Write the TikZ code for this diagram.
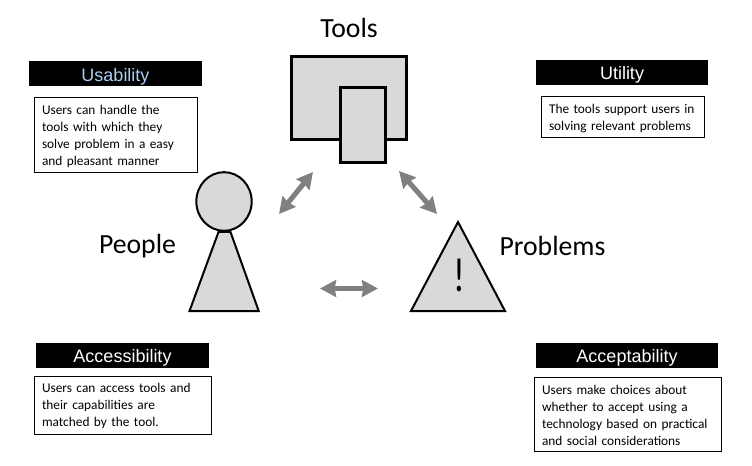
\documentclass[tikz,border=0pt]{standalone}
\usepackage{fontspec}
\setmainfont{Carlito}
\setsansfont{Liberation Sans}
\usetikzlibrary{arrows.meta,shapes.geometric}
\definecolor{linkblue}{RGB}{170,205,245}

\begin{document}
\begin{tikzpicture}[
  x = 0.75pt, y = -0.75pt,
  line join = miter,
  title/.style = {font = \fontsize{20.8}{25}\selectfont},
  head/.style = {fill = black, text = white, inner sep = 0pt, minimum height = 18.75pt,
    text height = 11pt, text depth = 0pt, font = \sffamily\fontsize{13.5}{16}\selectfont},
  body/.style = {draw, line width = 0.75pt, fill = white, inner xsep = 6pt, inner ysep = 0pt, align = left,
    font = \fontsize{10}{12.75}\selectfont, execute at begin node = {\rule{0pt}{9pt}}},
  solid shape/.style = {draw, fill = black!15, line width = 1.5pt},
  tool/.style = {draw, fill = black!15, line width = 2.25pt, inner sep = 0pt},
  link/.style = {<->, draw = black!50, line width = 3.8pt,
    >={Stealth[inset = 1pt, length = 12pt, width = 12.5pt]}}]
  % Define nodes
  \node (T) [title] at (349, 28) {Tools};
  \node (P) [title] at (137.5, 246) {People};
  \node (R) [title] at (552.5, 246) {Problems};

  \node (toolB) [tool, minimum width = 86.25pt, minimum height = 62.6pt] at (349, 98.2) {};
  \node (toolS) [tool, minimum width = 33.4pt, minimum height = 56pt] at (363.2, 124.7) {};

  \draw[solid shape] (189.5, 311) -- (218.5, 232) -- (230.5, 232) -- (258.7, 311) -- cycle;
  \node (person) [solid shape, ellipse, inner sep = 0pt, minimum width = 41.5pt, minimum height = 44pt] at (224, 201.5) {};
  \draw[solid shape] (411, 311) -- (458, 222) -- (505, 311) -- cycle;
  \node (mark) [xscale = 0.75, transform shape] at (459, 275) {\fontsize{36}{36}\selectfont !};

  \node (usaH) [head, text = linkblue, minimum width = 129.75pt] at (115.5, 74) {Usability};
  \node (utiH) [head, minimum width = 129pt] at (622, 72.5) {Utility};
  \node (accH) [head, minimum width = 129.75pt] at (122.5, 355.5) {Accessibility};
  \node (acpH) [head, minimum width = 136.5pt] at (627, 355.5) {Acceptability};

  \node (usaB) [body, text width = 110.25pt, minimum height = 56.25pt] at (115.5, 134.7)
    {Users can handle the\\tools with which they\\solve problem in a easy\\and pleasant manner};
  \node (utiB) [body, text width = 110.25pt, minimum height = 30.75pt] at (622.5, 116.8)
    {The tools support users in\\solving relevant problems};
  \node (accB) [body, text width = 120.75pt, minimum height = 43.5pt] at (122.5, 405)
    {Users can access tools and\\their capabilities are\\matched by the tool.};
  \node (acpB) [body, text width = 128.25pt, minimum height = 55.5pt] at (627.5, 414)
    {Users make choices about\\whether to accept using a\\technology based on practical\\and social considerations};

  % Arrow ends
  \coordinate (a1) at (279, 214);
  \coordinate (a2) at (313, 172);
  \coordinate (b1) at (399, 171);
  \coordinate (b2) at (437, 214);
  \coordinate (c1) at (320, 288.5);
  \coordinate (c2) at (378, 288.5);

  % Draw arrows
  \draw[link] (a1) -- (a2);
  \draw[link] (b1) -- (b2);
  \draw[link] (c1) -- (c2);

  \useasboundingbox (0, 0) rectangle (752, 466);
\end{tikzpicture}
\end{document}
